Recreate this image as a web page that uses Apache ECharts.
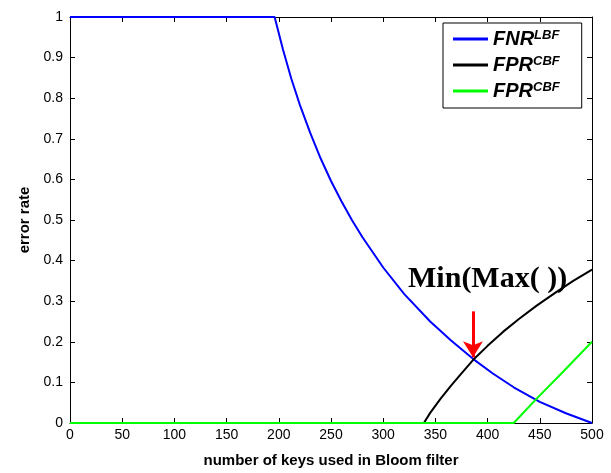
<!DOCTYPE html>
<html><head><meta charset="utf-8">
<script src="https://cdn.jsdelivr.net/npm/echarts@6/dist/echarts.min.js"></script>
<style>html,body{margin:0;padding:0;background:#fff}#c{width:611px;height:473px}</style>
</head><body><div id="c"></div>
<script>
// FNR^LBF (blue)
const fnrX = [0, 196, 204, 212, 220, 230, 240, 250, 260, 270, 280, 300, 320, 345, 365, 386, 405, 425, 450, 475, 500];
const fnrY = [1, 1, 0.92, 0.848, 0.785, 0.715, 0.652, 0.596, 0.546, 0.5, 0.458, 0.383, 0.318, 0.25, 0.203, 0.158, 0.122, 0.088, 0.052, 0.024, 0];
// FPR^CBF (black)
const fprX = [0, 339, 345, 355, 365, 375, 386, 400, 415, 430, 447, 465, 482, 500];
const fprY = [0, 0, 0.025, 0.06, 0.092, 0.122, 0.155, 0.19, 0.225, 0.256, 0.289, 0.321, 0.35, 0.378];
// FPR^CBF (green)
const fpr2X = [0, 425, 447, 470, 500];
const fpr2Y = [0, 0, 0.06, 0.12, 0.2];
const seriesNames = ['FNR_LBF', 'FPR_CBF', 'FPR_CBF2'];
const seriesLabels = [['FNR', 'LBF'], ['FPR', 'CBF'], ['FPR', 'CBF']];
const arrowX = [386, 386];
const arrowY = [0.275, 0.162];
const noteText = 'Min(Max( ))';
const notePos = [400, 0.355];

const pairs = (xs, ys) => xs.map((x, i) => [x, ys[i]]);
const chart = echarts.init(document.getElementById('c'), null, {renderer: 'canvas'});
const font = 'Liberation Sans, Arial, Helvetica, sans-serif';
const axLine = {show: true, onZero: false, lineStyle: {color: '#000', width: 1}};
const axTick = {show: true, inside: true, length: 5, lineStyle: {color: '#000'}};
const lbl = {fontFamily: font, fontSize: 14, color: '#000'};
const option = {
  animation: false,
  backgroundColor: '#fff',
  grid: {left: 70, right: 19, top: 17, bottom: 45},
  xAxis: [
    {type: 'value', min: 0, max: 500, interval: 50, axisLine: axLine, axisTick: axTick,
     axisLabel: Object.assign({margin: 5}, lbl), splitLine: {show: false},
     name: 'number of keys used in Bloom filter', nameLocation: 'middle', nameGap: 30,
     nameTextStyle: {fontFamily: font, fontSize: 15, fontWeight: 'bold', color: '#000'}},
    {type: 'value', position: 'top', min: 0, max: 500, interval: 50, axisLine: axLine, axisTick: axTick,
     axisLabel: {show: false}, splitLine: {show: false}}
  ],
  yAxis: [
    {type: 'value', min: 0, max: 1, interval: 0.1, axisLine: axLine, axisTick: axTick,
     axisLabel: Object.assign({margin: 7}, lbl), splitLine: {show: false},
     name: 'error rate', nameLocation: 'middle', nameGap: 32, nameRotate: 90,
     nameTextStyle: {fontFamily: font, fontSize: 15, fontWeight: 'bold', color: '#000'}},
    {type: 'value', position: 'right', min: 0, max: 1, interval: 0.1, axisLine: axLine, axisTick: axTick,
     axisLabel: {show: false}, splitLine: {show: false}}
  ],
  legend: {
    orient: 'vertical', left: 443, top: 23,
    backgroundColor: '#fff', borderColor: '#000', borderWidth: 1, borderRadius: 0,
    padding: [6, 22, 6, 10], itemGap: 5, itemWidth: 35, itemHeight: 3, itemTextGap: 13,
    icon: 'rect',
    data: seriesNames,
    formatter: name => {
      const l = seriesLabels[seriesNames.indexOf(name)];
      return '{a|' + l[0] + '}{b|' + l[1] + '}';
    },
    textStyle: {
      rich: {
        a: {fontFamily: font, fontSize: 20, fontWeight: 'bold', fontStyle: 'italic', color: '#000', lineHeight: 20},
        b: {fontFamily: font, fontSize: 13, fontWeight: 'bold', fontStyle: 'italic', color: '#000', verticalAlign: 'top', lineHeight: 20, padding: [0, 0, 8, 0]}
      }
    }
  },
  series: [
    {name: seriesNames[0], type: 'line', data: pairs(fnrX, fnrY), showSymbol: false, symbol: 'none', clip: false,
     lineStyle: {color: '#0000ff', width: 2}, itemStyle: {color: '#0000ff'},
     markLine: {silent: true, symbol: ['none', 'arrow'], symbolSize: [15, 16], label: {show: false},
       lineStyle: {color: '#ff0000', width: 3, type: 'solid'},
       data: [[{coord: [arrowX[0], arrowY[0]]}, {coord: [arrowX[1], arrowY[1]]}]]}},
    {name: seriesNames[1], type: 'line', data: pairs(fprX, fprY), showSymbol: false, symbol: 'none', clip: false,
     lineStyle: {color: '#000000', width: 2}, itemStyle: {color: '#000000'},
     markPoint: {silent: true, symbol: 'circle', symbolSize: 1, itemStyle: {color: 'rgba(0,0,0,0)'},
       label: {show: true, position: 'inside', formatter: noteText, fontFamily: 'Liberation Serif, Times New Roman, serif',
         fontSize: 30, fontWeight: 'bold', color: '#000'},
       data: [{coord: notePos}]}},
    {name: seriesNames[2], type: 'line', data: pairs(fpr2X, fpr2Y), showSymbol: false, symbol: 'none', clip: false,
     lineStyle: {color: '#00ff00', width: 2}, itemStyle: {color: '#00ff00'}}
  ]
};
chart.setOption(option);
</script>
</body></html>
